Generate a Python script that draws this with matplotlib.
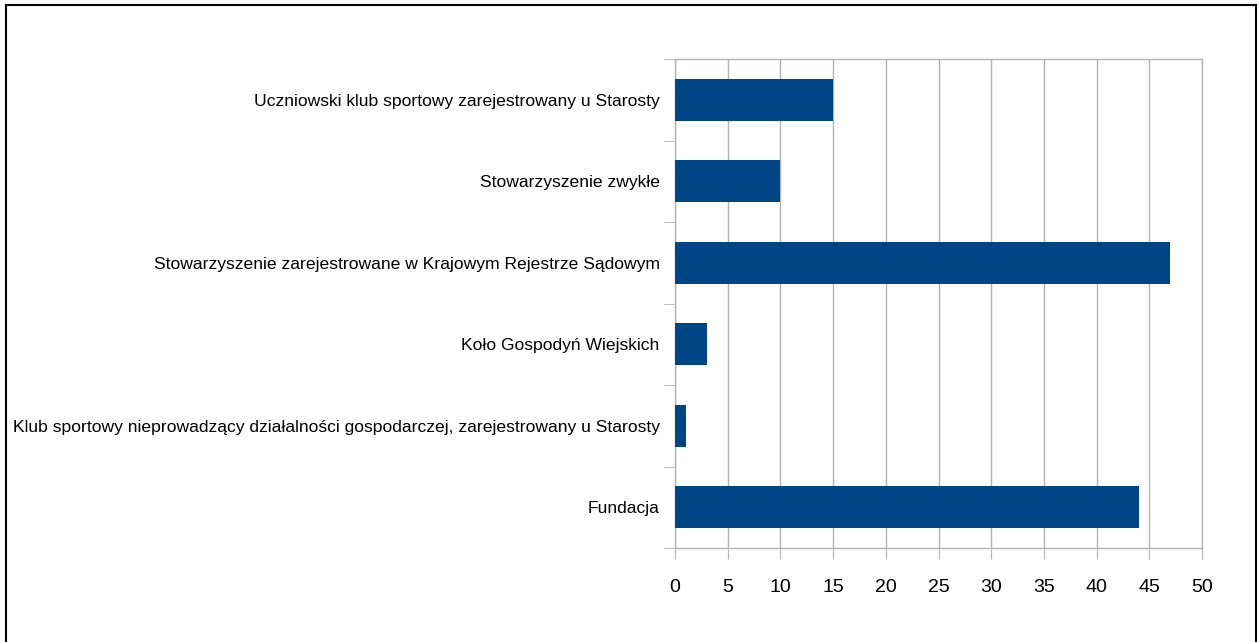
import matplotlib
matplotlib.use("Agg")
import matplotlib.pyplot as plt
from matplotlib import font_manager
from matplotlib.lines import Line2D

# categories, top to bottom as in the picture
categories = [
    "Uczniowski klub sportowy zarejestrowany u Starosty",
    "Stowarzyszenie zwykłe",
    "Stowarzyszenie zarejestrowane w Krajowym Rejestrze Sądowym",
    "Koło Gospodyń Wiejskich",
    "Klub sportowy nieprowadzący działalności gospodarczej, zarejestrowany u Starosty",
    "Fundacja",
]
values = [15, 10, 47, 3, 1, 44]
xticks = [0, 5, 10, 15, 20, 25, 30, 35, 40, 45, 50]

# pick a narrow font if there is one
names = set(f.name for f in font_manager.fontManager.ttflist)
if "Liberation Sans Narrow" in names:
    fam = "Liberation Sans Narrow"
    ysize, xsize = 16.5, 16.5
else:
    fam = "Liberation Sans"
    ysize, xsize = 12.6, 14
plt.rcParams["font.family"] = [fam, "DejaVu Sans"]

W, H = 1259, 642
fig = plt.figure(figsize=(W / 100, H / 100), dpi=100)

# plot area in pixels: x 675..1202, y 59..548
ax = fig.add_axes([675 / W, (H - 548) / H, (1202 - 675) / W, (548 - 59) / H])

ypos = list(range(len(categories)))
ax.barh(ypos, values, height=0.52, color="#004586", zorder=3)
ax.set_ylim(len(categories) - 0.5, -0.5)
ax.set_xlim(0, 50)

ax.set_xticks(xticks)
ax.set_xticklabels([str(t) for t in xticks], fontsize=xsize)
ax.set_yticks(ypos)
ax.set_yticklabels(categories, fontsize=ysize)
ax.tick_params(axis="y", length=0, pad=11)
ax.tick_params(axis="x", length=8, color="#b3b3b3", pad=14)

# category boundary ticks on the left
ax.set_yticks([i - 0.5 for i in range(len(categories) + 1)], minor=True)
ax.tick_params(axis="y", which="minor", length=8, color="#b3b3b3")

ax.grid(axis="x", color="#b3b3b3", linewidth=1, zorder=0)
for s in ax.spines.values():
    s.set_color("#b3b3b3")
    s.set_linewidth(1)

# black frame around the whole picture (no bottom edge)
fx = lambda p: p / W
fy = lambda p: 1 - p / H
frame = dict(color="black", linewidth=1.5, transform=fig.transFigure)
fig.add_artist(Line2D([fx(6), fx(6)], [fy(5), 0], **frame))
fig.add_artist(Line2D([fx(6), fx(1256)], [fy(5), fy(5)], **frame))
fig.add_artist(Line2D([fx(1256), fx(1256)], [fy(5), 0], **frame))

fig.savefig("out.png", dpi=100)
